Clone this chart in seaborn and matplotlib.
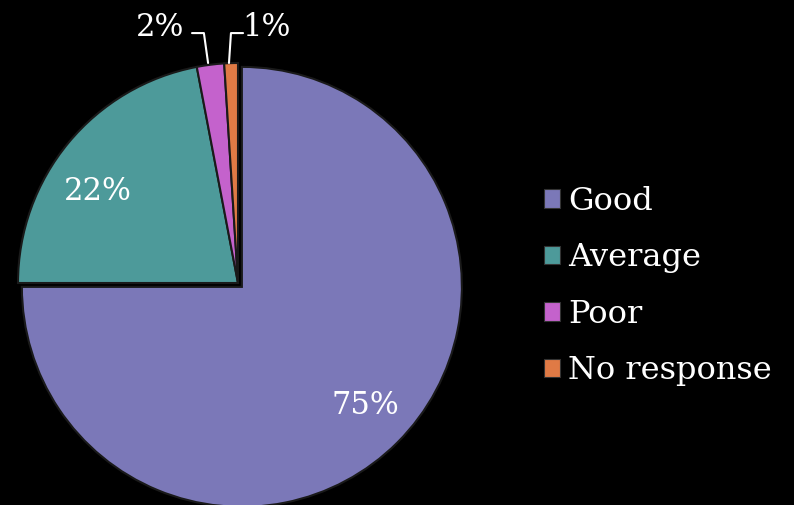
import matplotlib.pyplot as plt
import matplotlib.patches as mpatches
import seaborn as sns

labels = ["Good", "Average", "Poor", "No response"]
values = [75, 22, 2, 1]
colors = ["#7b78b8", "#4d9a9a", "#c462cc", "#e07a45"]

sns.set_style("dark", {"axes.facecolor": "black", "figure.facecolor": "black"})
plt.rcParams["font.family"] = ["DejaVu Serif"]

fig = plt.figure(figsize=(7.94, 5.05), dpi=100, facecolor="black")
# pie centre at (238, 283) px from top, radius 220 px
ax = fig.add_axes([-4 / 794, -20 / 505, 484 / 794, 484 / 505])
ax.set_facecolor("black")

wedges, _ = ax.pie(
    values,
    colors=colors,
    startangle=90,
    counterclock=False,
    explode=[0.025, 0, 0, 0],
    radius=1,
    wedgeprops=dict(edgecolor="#1a1a1a", linewidth=1.5),
)
ax.set_xlim(-1.1, 1.1)
ax.set_ylim(-1.1, 1.1)
ax.set_aspect("equal")
ax.axis("off")

# percentage labels
txt = dict(color="white", fontsize=22, ha="center", va="center")
ax.text(0.577, -0.555, f"{values[0]}%", **txt)
ax.text(-0.636, 0.414, f"{values[1]}%", **txt)
ax.text(-0.355, 1.16, f"{values[2]}%", **txt)
ax.text(0.13, 1.16, f"{values[3]}%", **txt)

# leader lines for the small slices
ax.plot([-0.209, -0.155, -0.136], [1.136, 1.136, 1.0], color="white", lw=1.5, clip_on=False)
ax.plot([0.023, -0.032, -0.041], [1.136, 1.136, 1.0], color="white", lw=1.5, clip_on=False)

handles = [mpatches.Patch(facecolor=c, edgecolor="#333333", linewidth=0.8) for c in colors]
leg = fig.legend(
    handles, labels,
    loc="center left",
    bbox_to_anchor=(515 / 794, 1 - 286 / 505),
    frameon=False,
    fontsize=23,
    handlelength=0.52,
    handleheight=0.52,
    handletextpad=0.25,
    labelspacing=0.8,
)
for t in leg.get_texts():
    t.set_color("white")

fig.savefig("out.png", dpi=100, facecolor="black")
